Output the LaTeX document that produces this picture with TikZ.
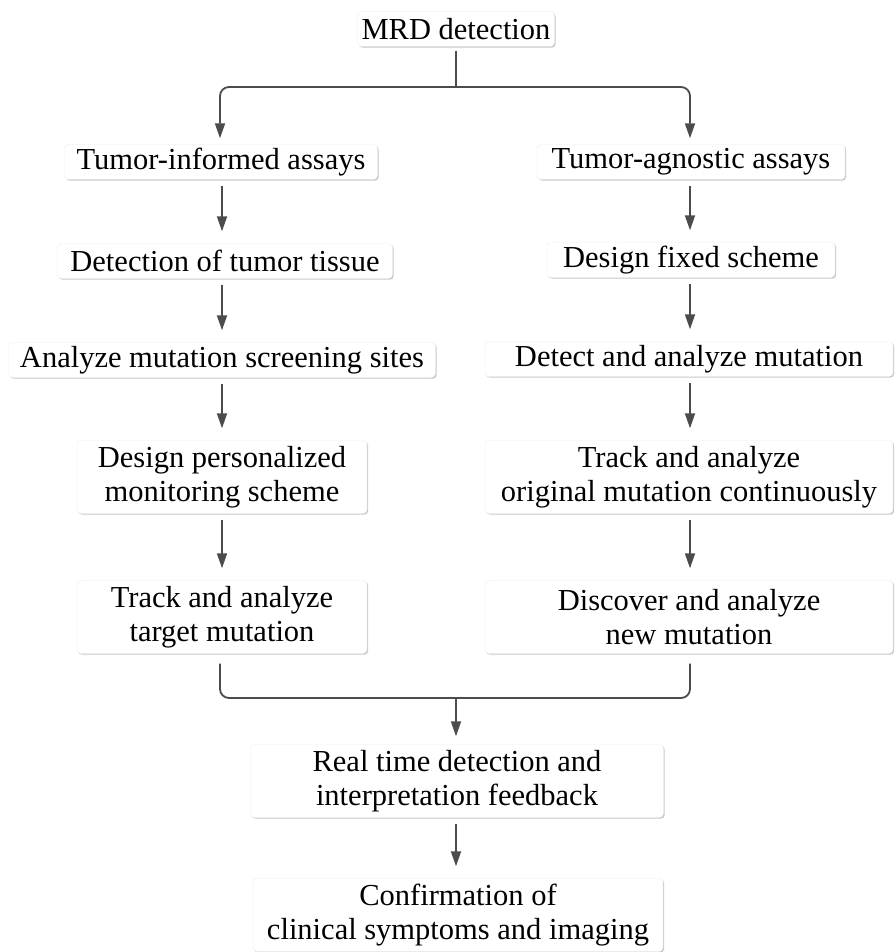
\documentclass[tikz,border=0pt]{standalone}
\usepackage{fontspec}
\setmainfont{Liberation Serif}
\usepackage{tikz}
\usetikzlibrary{arrows.meta, shadows, calc}

\tikzset{
  stepbox/.style={fill=white, draw=black!7, rounded corners=4pt, align=center,
    inner xsep=4pt, inner ysep=3pt, minimum height=35pt,
    font=\fontsize{30.5}{34}\selectfont,
    drop shadow={shadow xshift=1.2pt, shadow yshift=-1.2pt, fill=black!22, opacity=1}},
  twoline/.style={stepbox, minimum height=73pt},
  link/.style={draw=black!70, line width=1.8pt},
  arr/.style={link, -{Triangle[width=10pt,length=15pt]}, shorten <=6pt, shorten >=12pt},
}

\begin{document}
\begin{tikzpicture}[x=1pt, y=-1pt]
        \useasboundingbox (0,0) rectangle (895,952);

        % top
        \node[stepbox, minimum width=197pt] (mrd) at (456,29) {MRD detection};
        \coordinate (split) at (456,87);

        % left column: tumor-informed
        \node[stepbox, minimum width=313pt] (tia) at (221,162) {Tumor-informed assays};
        \node[stepbox, minimum width=335pt] (dtt) at (225,261) {Detection of tumor tissue};
        \node[stepbox, minimum width=427pt] (ams) at (222,360) {Analyze mutation screening sites};
        \node[twoline, minimum width=290pt] (dpm) at (222,477) {Design personalized\\monitoring scheme};
        \node[twoline, minimum width=290pt] (tat) at (222,617) {Track and analyze\\target mutation};

        % right column: tumor-agnostic
        \node[stepbox, minimum width=308pt] (taa) at (691,162) {Tumor-agnostic assays};
        \node[stepbox, minimum width=288pt] (dfs) at (691,260) {Design fixed scheme};
        \node[stepbox, minimum width=408pt] (dam) at (689,359) {Detect and analyze mutation};
        \node[twoline, minimum width=408pt] (tao) at (689,477) {Track and analyze\\original mutation continuously};
        \node[twoline, minimum width=408pt] (dnm) at (689,617) {Discover and analyze\\new mutation};

        % bottom
        \coordinate (join) at (456,698);
        \node[twoline, minimum width=413pt] (rtd) at (457,781) {Real time detection and\\interpretation feedback};
        \node[twoline, minimum width=410pt] (cfm) at (458,915) {Confirmation of\\clinical symptoms and imaging};

        % split into the two assay types
        \draw[link, shorten <=4pt] (mrd) -- (split);
        \draw[arr, rounded corners=9pt, shorten <=0pt, shorten >=6pt] (split) -| (tia.north -| 220,0);
        \draw[arr, rounded corners=9pt, shorten <=0pt, shorten >=6pt] (split) -| (taa.north -| 690,0);

        % left chain
        \draw[arr] (tia.south -| 222,0) -- (dtt.north -| 222,0);
        \draw[arr] (dtt.south -| 222,0) -- (ams.north -| 222,0);
        \draw[arr] (ams.south -| 222,0) -- (dpm.north -| 222,0);
        \draw[arr] (dpm.south -| 222,0) -- (tat.north -| 222,0);

        % right chain
        \draw[arr] (taa.south -| 690,0) -- (dfs.north -| 690,0);
        \draw[arr] (dfs.south -| 690,0) -- (dam.north -| 690,0);
        \draw[arr] (dam.south -| 690,0) -- (tao.north -| 690,0);
        \draw[arr] (tao.south -| 690,0) -- (dnm.north -| 690,0);

        % merge
        \draw[link, rounded corners=9pt, shorten <=10pt] (tat.south -| 220,0) |- (join);
        \draw[link, rounded corners=9pt, shorten <=10pt] (dnm.south -| 690,0) |- (join);
        \draw[arr, shorten <=0pt, shorten >=8pt] (join) -- (rtd.north -| join);
        \draw[arr] (rtd.south -| join) -- (cfm.north -| join);
    \end{tikzpicture}
\end{document}
